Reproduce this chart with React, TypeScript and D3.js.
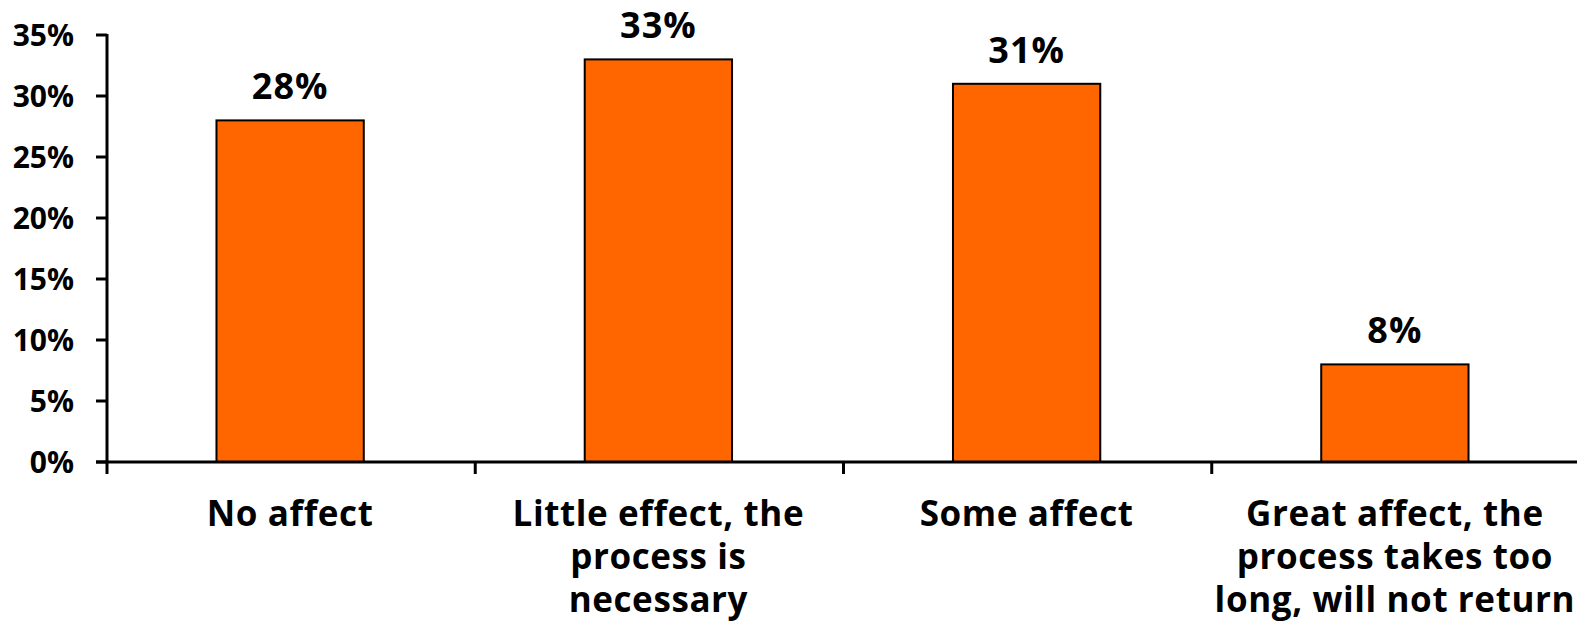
import React from "react";
import * as d3 from "d3";

const categories = [
  ["No affect"],
  ["Little effect, the", "process is", "necessary"],
  ["Some affect"],
  ["Great affect, the", "process takes too", "long, will not return"],
];
const values = [28, 33, 31, 8];
const yTicks = [0, 5, 10, 15, 20, 25, 30, 35];

const W = 1577;
const H = 623;
const FONT = "'Open Sans', sans-serif";

export default function App() {
  const x = d3
    .scaleBand<number>()
    .domain(d3.range(values.length))
    .range([106, 1579])
    .paddingInner(0)
    .paddingOuter(0);
  const y = d3.scaleLinear().domain([0, 35]).range([462, 35]);
  const barW = x.bandwidth() * 0.4;

  return (
    <svg
      width={W}
      height={H}
      style={{ position: "absolute", left: 0, top: 0 }}
    >
      {values.map((v, i) => {
        const cx = (x(i) as number) + x.bandwidth() / 2;
        return (
          <g key={i}>
            <rect
              x={cx - barW / 2}
              y={y(v)}
              width={barW}
              height={y(0) - y(v)}
              fill="#FF6600"
              stroke="#000"
              strokeWidth={2}
            />
            <text
              x={cx}
              y={y(v) - 21}
              textAnchor="middle"
              fontFamily={FONT}
              fontWeight="bold"
              fontSize={36}
              letterSpacing={1}
              fill="#000"
            >
              {v}%
            </text>
          </g>
        );
      })}
      <line x1={107} x2={107} y1={y(35) - 1} y2={y(0) + 1} stroke="#000" strokeWidth={3} />
      {yTicks.map((t) => (
        <g key={t}>
          <line x1={96} x2={107} y1={y(t)} y2={y(t)} stroke="#000" strokeWidth={3} />
          <text
            x={74}
            y={y(t)}
            dy="0.36em"
            textAnchor="end"
            fontFamily={FONT}
            fontWeight="bold"
            fontSize={30}
            fill="#000"
          >
            {t}%
          </text>
        </g>
      ))}
      <line x1={96} x2={1579} y1={y(0)} y2={y(0)} stroke="#000" strokeWidth={3} />
      {d3.range(values.length + 1).map((i) => {
        const xx = i < values.length ? (x(i) as number) : 1579;
        return (
          <line key={i} x1={xx + 1} x2={xx + 1} y1={y(0)} y2={y(0) + 12} stroke="#000" strokeWidth={3} />
        );
      })}
      {categories.map((lines, i) => {
        const cx = (x(i) as number) + x.bandwidth() / 2;
        return (
          <text
            key={i}
            textAnchor="middle"
            fontFamily={FONT}
            fontWeight="bold"
            fontSize={35}
            letterSpacing={0.6}
            fill="#000"
          >
            {lines.map((l, j) => (
              <tspan key={j} x={cx} y={526 + j * 43}>
                {l}
              </tspan>
            ))}
          </text>
        );
      })}
    </svg>
  );
}
